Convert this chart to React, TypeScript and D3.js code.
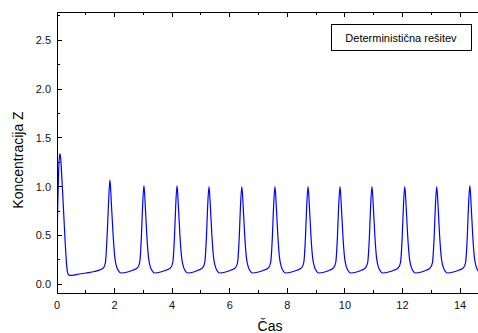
import React, { useEffect, useRef } from "react";
import * as d3 from "d3";

// chart texts
const legendLabel = "Deterministična rešitev";
const xTitle = "Čas";
const yTitle = "Koncentracija Z";

// tick values
const xMajorTicks = [0, 2, 4, 6, 8, 10, 12, 14];
const xMinorTicks = [1, 3, 5, 7, 9, 11, 13, 15];
const yMajorTicks = [0, 0.5, 1.0, 1.5, 2.0, 2.5];
const yMinorTicks = [0.25, 0.75, 1.25, 1.75, 2.25, 2.75];

// [cas, koncentracija Z]
const zSeries: [number, number][] = [
  [0.0, 0.47], [0.03, 0.85], [0.06, 1.18], [0.1, 1.34], [0.13, 1.28], [0.16, 1.14],
  [0.22, 0.8], [0.28, 0.45], [0.34, 0.18], [0.39, 0.1], [0.45, 0.09], [0.7, 0.1],
  [1.0, 0.115], [1.3, 0.13], [1.52, 0.15], [1.62, 0.17],
  // peak 1.84
  [1.68, 0.22], [1.74, 0.49], [1.79, 0.83], [1.84, 1.07], [1.89, 0.82], [1.95, 0.5],
  [2.01, 0.27], [2.07, 0.18], [2.14, 0.135], [2.22, 0.115], [2.45, 0.125], [2.65, 0.145], [2.8, 0.17],
  // peak 3.02
  [2.87, 0.22], [2.93, 0.48], [2.97, 0.78], [3.02, 1.01], [3.07, 0.78], [3.12, 0.5],
  [3.18, 0.27], [3.24, 0.18], [3.31, 0.135], [3.39, 0.115], [3.6, 0.125], [3.8, 0.145], [3.95, 0.17],
  // peak 4.17
  [4.02, 0.22], [4.08, 0.48], [4.12, 0.78], [4.17, 1.01], [4.22, 0.78], [4.27, 0.5],
  [4.33, 0.27], [4.39, 0.18], [4.46, 0.135], [4.54, 0.115], [4.75, 0.125], [4.92, 0.145], [5.06, 0.17],
  // peak 5.28
  [5.13, 0.22], [5.19, 0.48], [5.23, 0.78], [5.28, 1.0], [5.33, 0.78], [5.38, 0.5],
  [5.44, 0.27], [5.5, 0.18], [5.57, 0.135], [5.65, 0.115], [5.86, 0.125], [6.05, 0.145], [6.2, 0.17],
  // peak 6.42
  [6.27, 0.22], [6.33, 0.48], [6.37, 0.78], [6.42, 1.0], [6.47, 0.78], [6.52, 0.5],
  [6.58, 0.27], [6.64, 0.18], [6.71, 0.135], [6.79, 0.115], [7.0, 0.125], [7.2, 0.145], [7.35, 0.17],
  // peak 7.57
  [7.42, 0.22], [7.48, 0.48], [7.52, 0.78], [7.57, 1.0], [7.62, 0.78], [7.67, 0.5],
  [7.73, 0.27], [7.79, 0.18], [7.86, 0.135], [7.94, 0.115], [8.15, 0.125], [8.35, 0.145], [8.5, 0.17],
  // peak 8.72
  [8.57, 0.22], [8.63, 0.48], [8.67, 0.78], [8.72, 1.0], [8.77, 0.78], [8.82, 0.5],
  [8.88, 0.27], [8.94, 0.18], [9.01, 0.135], [9.09, 0.115], [9.3, 0.125], [9.48, 0.145], [9.61, 0.17],
  // peak 9.83
  [9.68, 0.22], [9.74, 0.48], [9.78, 0.78], [9.83, 1.0], [9.88, 0.78], [9.93, 0.5],
  [9.99, 0.27], [10.05, 0.18], [10.12, 0.135], [10.2, 0.115], [10.41, 0.125], [10.59, 0.145], [10.72, 0.17],
  // peak 10.94
  [10.79, 0.22], [10.85, 0.48], [10.89, 0.78], [10.94, 1.0], [10.99, 0.78], [11.04, 0.5],
  [11.1, 0.27], [11.16, 0.18], [11.23, 0.135], [11.31, 0.115], [11.52, 0.125], [11.72, 0.145], [11.86, 0.17],
  // peak 12.08
  [11.93, 0.22], [11.99, 0.48], [12.03, 0.78], [12.08, 1.0], [12.13, 0.78], [12.18, 0.5],
  [12.24, 0.27], [12.3, 0.18], [12.37, 0.135], [12.45, 0.115], [12.66, 0.125], [12.84, 0.145], [12.97, 0.17],
  // peak 13.19
  [13.04, 0.22], [13.1, 0.48], [13.14, 0.78], [13.19, 1.0], [13.24, 0.78], [13.29, 0.5],
  [13.35, 0.27], [13.41, 0.18], [13.48, 0.135], [13.56, 0.115], [13.77, 0.125], [13.97, 0.145], [14.12, 0.17],
  // peak 14.34
  [14.19, 0.22], [14.25, 0.48], [14.29, 0.78], [14.34, 1.01], [14.39, 0.78], [14.44, 0.5],
  [14.5, 0.27], [14.56, 0.18], [14.63, 0.135],
];

const W = 478;
const H = 333;
const margin = { left: 57, top: 12, bottom: 293 };

const App = () => {
  const ref = useRef<SVGSVGElement>(null);

  useEffect(() => {
    const svg = d3.select(ref.current);
    svg.selectAll("*").remove();

    const x = d3.scaleLinear().domain([0, 15]).range([margin.left, margin.left + 15 * 28.79]);
    const y = d3.scaleLinear().domain([-0.09, 2.79]).range([margin.bottom, margin.top]);
    const font = "Arial, 'Liberation Sans', sans-serif";

    svg
      .append("defs")
      .append("clipPath")
      .attr("id", "plotClip")
      .append("rect")
      .attr("x", margin.left)
      .attr("y", margin.top)
      .attr("width", W - margin.left)
      .attr("height", margin.bottom - margin.top);

    // series
    const line = d3
      .line<[number, number]>()
      .x((d) => x(d[0]))
      .y((d) => y(d[1]))
      .curve(d3.curveMonotoneX);

    svg
      .append("path")
      .datum(zSeries)
      .attr("clip-path", "url(#plotClip)")
      .attr("fill", "none")
      .attr("stroke", "#0000ff")
      .attr("stroke-width", 1.2)
      .attr("stroke-linejoin", "round")
      .attr("d", line);

    // frame
    const frame = svg.append("g").attr("stroke", "#000").attr("stroke-width", 1).attr("shape-rendering", "crispEdges");
    frame.append("line").attr("x1", margin.left).attr("x2", margin.left).attr("y1", margin.top).attr("y2", margin.bottom);
    frame.append("line").attr("x1", margin.left).attr("x2", W).attr("y1", margin.bottom).attr("y2", margin.bottom);
    frame.append("line").attr("x1", margin.left).attr("x2", W).attr("y1", margin.top).attr("y2", margin.top);

    // x ticks (inward, bottom and top)
    const xt = (vals: number[], len: number) => {
      vals.forEach((v) => {
        if (x(v) > W) return;
        frame.append("line").attr("x1", x(v)).attr("x2", x(v)).attr("y1", margin.bottom).attr("y2", margin.bottom - len);
        frame.append("line").attr("x1", x(v)).attr("x2", x(v)).attr("y1", margin.top).attr("y2", margin.top + len);
      });
    };
    xt(xMajorTicks, 5);
    xt(xMinorTicks, 3);

    const yt = (vals: number[], len: number) => {
      vals.forEach((v) => {
        frame.append("line").attr("x1", margin.left).attr("x2", margin.left + len).attr("y1", y(v)).attr("y2", y(v));
      });
    };
    yt(yMajorTicks, 5);
    yt(yMinorTicks, 3);

    // tick labels
    svg
      .append("g")
      .selectAll("text")
      .data(xMajorTicks)
      .join("text")
      .attr("x", (d) => x(d))
      .attr("y", margin.bottom + 16)
      .attr("text-anchor", "middle")
      .attr("font-family", font)
      .attr("font-size", 11)
      .attr("fill", "#111")
      .text((d) => d);

    svg
      .append("g")
      .selectAll("text")
      .data(yMajorTicks)
      .join("text")
      .attr("x", margin.left - 6)
      .attr("y", (d) => y(d) + 4)
      .attr("text-anchor", "end")
      .attr("font-family", font)
      .attr("font-size", 11)
      .attr("fill", "#111")
      .text((d) => d3.format(".1f")(d));

    // axis titles
    svg
      .append("text")
      .text(xTitle)
      .attr("x", 270)
      .attr("y", 331)
      .attr("text-anchor", "middle")
      .attr("font-family", font)
      .attr("font-size", 14);

    svg
      .append("text")
      .text(yTitle)
      .attr("transform", "translate(23,160) rotate(-90)")
      .attr("text-anchor", "middle")
      .attr("font-family", font)
      .attr("font-size", 14);

    // legend
    svg
      .append("rect")
      .attr("x", 331)
      .attr("y", 24.5)
      .attr("width", 140)
      .attr("height", 26)
      .attr("fill", "#fff")
      .attr("stroke", "#000")
      .attr("stroke-width", 1)
      .attr("shape-rendering", "crispEdges");

    svg
      .append("text")
      .text(legendLabel)
      .attr("x", 401)
      .attr("y", 41.5)
      .attr("text-anchor", "middle")
      .attr("font-family", font)
      .attr("font-size", 11);
  }, []);

  return (
    <svg
      ref={ref}
      width={W}
      height={H}
      style={{ position: "absolute", left: 0, top: 0, background: "#fff", display: "block" }}
    ></svg>
  );
};

export default App;
